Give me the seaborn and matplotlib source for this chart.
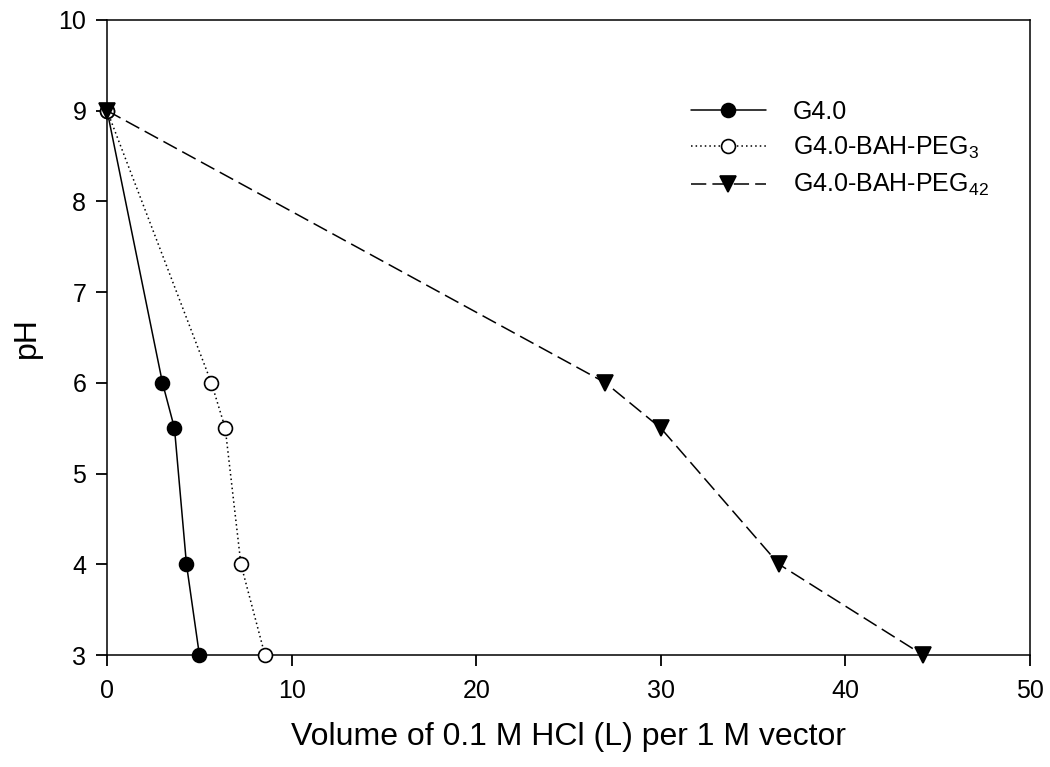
import numpy as np
import pandas as pd
import seaborn as sns
from matplotlib import pyplot as plt

# titration data
ph = [9, 6, 5.5, 4, 3]
vol_g40 = [0, 3.0, 3.65, 4.3, 5.0]
vol_peg3 = [0, 5.65, 6.4, 7.25, 8.55]
vol_peg42 = [0, 27.0, 30.0, 36.4, 44.2]

labels = ['G4.0', 'G4.0-BAH-PEG$_3$', 'G4.0-BAH-PEG$_{42}$']

sns.set_style('ticks')
plt.rcParams['font.family'] = ['Liberation Sans', 'DejaVu Sans']
plt.rcParams['mathtext.fontset'] = 'custom'
plt.rcParams['mathtext.rm'] = 'Liberation Sans'
plt.rcParams['mathtext.it'] = 'Liberation Sans'
plt.rcParams['text.color'] = 'black'
plt.rcParams['axes.labelcolor'] = 'black'

fig, ax = plt.subplots(figsize=(10.5, 7.67), dpi=100, facecolor='white')
fig.subplots_adjust(left=0.102, right=0.981, bottom=0.146, top=0.974)

styles = [
    dict(marker='o', linestyle='-', markerfacecolor='black', ms=10),
    dict(marker='o', linestyle=(0, (1, 2)), markerfacecolor='white', ms=10),
    dict(marker='v', linestyle=(0, (10, 4)), markerfacecolor='black', ms=11),
]

for vol, label, st in zip([vol_g40, vol_peg3, vol_peg42], labels, styles):
    df = pd.DataFrame({'vol': vol, 'ph': ph})
    sns.lineplot(
        data=df, x='vol', y='ph', ax=ax, color='black', lw=1.1,
        marker=st['marker'], linestyle=st['linestyle'],
        markerfacecolor=st['markerfacecolor'], markeredgecolor='black',
        markeredgewidth=1.2, markersize=st['ms'], label=label, sort=False,
        clip_on=False, zorder=3,
    )

ax.set_xlim(0, 50)
ax.set_ylim(3, 10)
ax.set_xticks(np.arange(0, 51, 10))
ax.set_yticks(np.arange(3, 11, 1))
ax.set_xlabel('Volume of 0.1 M HCl (L) per 1 M vector', fontsize=23, labelpad=14)
ax.set_ylabel('pH', fontsize=23, labelpad=12)
for s in ax.spines.values():
    s.set_linewidth(1.1)
    s.set_color('black')

leg = ax.legend(loc='upper right', bbox_to_anchor=(0.98, 0.91), frameon=False,
                fontsize=18, handlelength=3.0, labelspacing=0.45, handletextpad=1.1)

# ticks last so nothing resets them
ax.tick_params(axis='both', which='major', bottom=True, left=True,
               direction='out', length=8, width=1.3, color='black',
               labelcolor='black', labelsize=18)
ax.tick_params(axis='x', pad=9)
ax.tick_params(axis='y', pad=7)

fig.savefig('out.png', dpi=100)
